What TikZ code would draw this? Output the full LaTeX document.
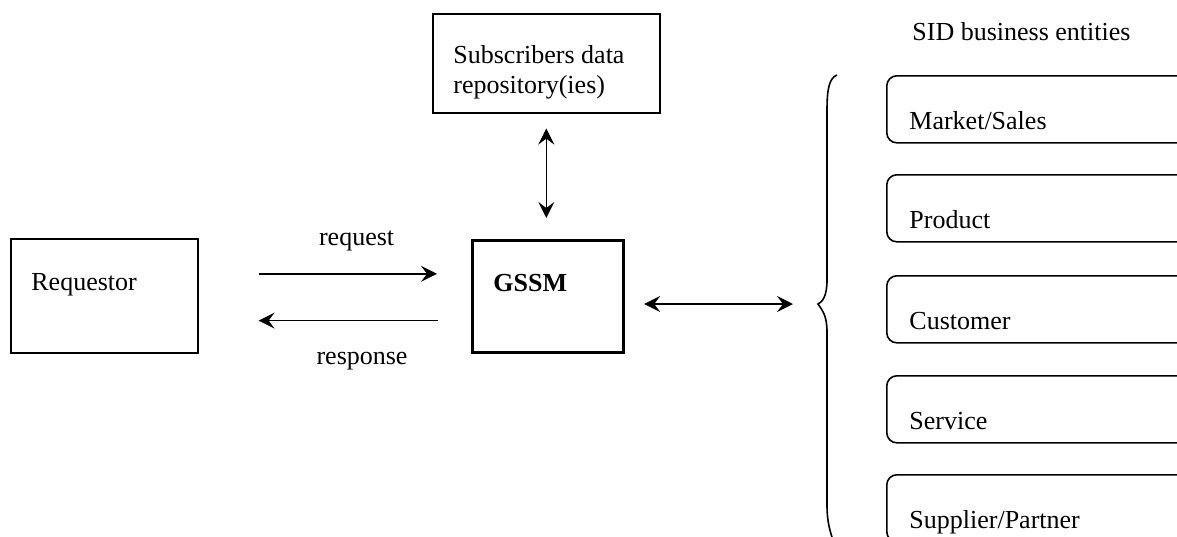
\documentclass[tikz,border=0pt]{standalone}
\usepackage{fontspec}
\setmainfont{Liberation Serif}
\usetikzlibrary{arrows.meta, calc}

\begin{document}
\begin{tikzpicture}[x=0.5pt, y=-0.5pt,
		box/.style = {draw, line width=0.8pt, inner sep=0pt, anchor=north west},
		entity/.style = {draw, line width=0.8pt, rounded corners=5pt, inner sep=0pt, minimum width=200pt, minimum height=33.5pt, anchor=north west},
		lbl/.style = {font=\fontsize{13}{15}\selectfont, inner sep=0pt},
		arr/.style = {line width=0.8pt, -{Stealth[length=8pt, width=8pt, inset=3pt]}},
		darr/.style = {line width=0.8pt, {Stealth[length=8pt, width=8pt, inset=3pt]}-{Stealth[length=8pt, width=8pt, inset=3pt]}}]
%		\draw (0,0) grid (1177,536);
		\useasboundingbox (0,0) rectangle (1177,536);
		\clip (0,0) rectangle (1177,536);
		
		\node[box, minimum width=93.5pt, minimum height=57pt] (req) at (10,238) {};
		\node[box, line width=1.6pt, minimum width=75.5pt, minimum height=56pt] (gssm) at (471,239) {};
		\node[box, minimum width=113.5pt, minimum height=49.5pt] (subs) at (432,13) {};
		\coordinate (tip) at (818,304);
		
		\node[lbl, anchor=base west] at (31,290) {Requestor};
		\node[lbl, anchor=base west, font=\fontsize{13}{15}\selectfont\bfseries] at (493,291) {GSSM};
		\node[lbl, anchor=base west, align=left] at (453,93) {Subscribers data\\repository(ies)};
		\node[lbl, anchor=base west] at (912,40) {SID business entities};
		
		% business entities
		\foreach \name/\txt/\y in {market/{Market/Sales}/75, product/Product/174, customer/Customer/275, service/Service/375, supplier/{Supplier/Partner}/474}{
			\node[entity] (\name) at (886,\y) {};
			\node[lbl, anchor=base west] at ($(\name.south west)+(23,-14)$) {\txt};
		}
		
		% brace
		\draw[line width=0.8pt] (837,75) .. controls (829,78) and (827,90) .. (827,110)
			-- (827,280) .. controls (827,297) and (822,302) .. (tip)
			.. controls (822,310) and (827,315) .. (827,332)
			-- (827,505) .. controls (827,522) and (830,533) .. (836,548);
		
		\draw[arr, shorten <=30pt, shorten >=17pt] ([yshift=11pt]req.east) -- node[lbl, pos=0.58, anchor=base, yshift=14pt] {request} ([yshift=11pt]req.east -| gssm.west);
		\draw[arr, shorten <=16.5pt, shorten >=30pt] ([yshift=-12pt]gssm.west) -- node[lbl, pos=0.4, anchor=base, yshift=-22pt] {response} ([yshift=-12pt]gssm.west -| req.east);
		\draw[darr, shorten <=7.5pt, shorten >=10.5pt] (subs.south) -- (subs.south |- gssm.north);
		\draw[darr, shorten <=9.5pt, shorten >=12.5pt] (gssm.east |- tip) -- (tip);
	\end{tikzpicture}
\end{document}
